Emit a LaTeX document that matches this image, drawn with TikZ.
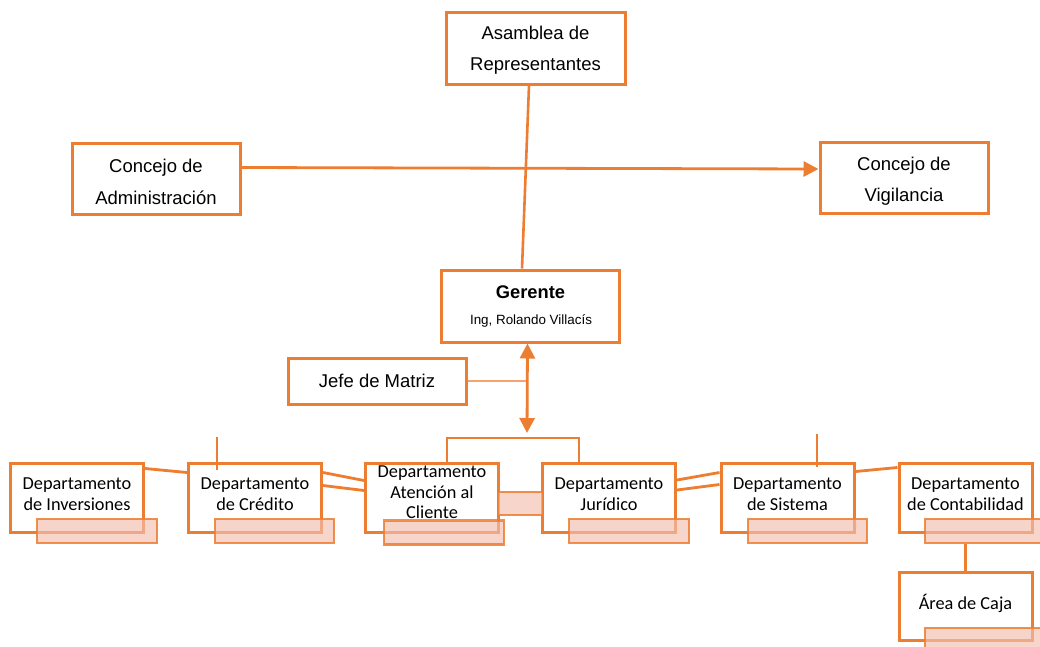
\documentclass[tikz,border=0pt]{standalone}
\usepackage{fontspec}
\setmainfont{Liberation Sans}
\newfontfamily\carl{Carlito}
\usetikzlibrary{arrows.meta,calc}
\definecolor{org}{HTML}{ED7D31}
\definecolor{lorg}{HTML}{F4A46C}
\definecolor{pinkc}{RGB}{243,190,175}
\begin{document}
\begin{tikzpicture}[x=1pt,y=-1pt,
  box/.style={draw=org, line width=3pt, fill=white, inner sep=0pt},
  pinkbox/.style={draw=org, draw opacity=0.85, line width=2.6pt, fill=pinkc, fill opacity=0.65, inner sep=0pt, minimum height=24pt},
  conn/.style={draw=org, line width=2.8pt},
  thin/.style={draw=org, line width=1.3pt},
  ttxt/.style={font=\fontsize{18.5}{31.5}\selectfont, align=center, inner sep=0pt, text=black},
  dtxt/.style={font=\carl\fontsize{18.3}{20.5}\selectfont, align=center, inner sep=0pt, text=black},
  dept/.style={box, minimum width=133pt, minimum height=69pt},
  tip/.style={-{Triangle[width=15pt,length=15pt]}},
]
\useasboundingbox (0,0) rectangle (1040,646);
\clip (0,0) rectangle (1040,646);

% top level boxes
\node[box, minimum width=179pt, minimum height=72pt] (asam) at (535.5,48) {};
\node[ttxt] (asamT) at (535.5,50) {Asamblea de\\Representantes};
\node[box, minimum width=168pt, minimum height=71pt] (adm) at (156,178.5) {};
\node[ttxt] (admT) at (156,182) {Concejo de\\Administración};
\node[box, minimum width=168pt, minimum height=71pt] (vig) at (904,177.5) {};
\node[ttxt] (vigT) at (904,181) {Concejo de\\Vigilancia};
\node[box, minimum width=178pt, minimum height=72pt] (ger) at (530,306) {};
\node[font=\bfseries\fontsize{18.3}{20}\selectfont, inner sep=0pt] (gerT) at (530.5,292) {Gerente};
\node[font=\fontsize{13.4}{15}\selectfont, inner sep=0pt] (gerN) at (531,321) {Ing, Rolando Villacís};
\node[box, minimum width=178pt, minimum height=46pt] (jefe) at (377,381) {};
\node[ttxt] (jefeT) at (377,381) {Jefe de Matriz};

% connectors top
\draw[conn, line width=2.6pt] ([xshift=-6.5pt]asam.south) -- ([xshift=-8pt]ger.north);
\draw[conn, tip] ([yshift=11pt]adm.east) -- ([yshift=8.5pt]vig.west);

% bracket and double arrow
\coordinate (brk) at (527,438);
\draw[thin, draw=lorg] (jefe.east) -- (jefe.east -| brk);

% department boxes
\node[dept] (inv) at (77,497.5) {};
\node[dept] (cred) at (255,497.5) {};
\node[dept] (aten) at (432,497.5) {};
\node[dept] (jur) at (609,498) {};
\node[dept] (sist) at (787.5,497.5) {};
\node[dept] (cont) at (965.5,497.5) {};
\node[dept, minimum height=68pt] (area) at (965.5,606) {};

\draw[conn] (aten.north -| 447,0) |- (brk) -| (jur.north -| 579,0);
\draw[conn, {Triangle[width=15pt,length=15pt]}-{Triangle[width=15pt,length=15pt]}] ([xshift=-2.5pt]ger.south) -- ([yshift=5pt]brk);

\node[dtxt] (invT) at (77,494) {Departamento\\de Inversiones};
\node[dtxt] (credT) at (255,494) {Departamento\\de Crédito};
\node[dtxt] (atenT) at (432,492.5) {Departamento\\Atención al\\Cliente};
\node[dtxt] (jurT) at (609,494) {Departamento\\Jurídico};
\node[dtxt] (sistT) at (787.5,494) {Departamento\\de Sistema};
\node[dtxt] (contT) at (965.5,494) {Departamento\\de Contabilidad};
\node[dtxt] (areaT) at (965.5,603) {Área de Caja};

% department connectors
\draw[conn] ([yshift=-7pt]inv.north east) -- ([yshift=-11pt]cred.north west);
\draw[conn] ([yshift=-11pt]cred.north east) -- ([yshift=-19pt]aten.north west);
\draw[conn] ([yshift=-24pt]cred.north east) -- ([yshift=-29pt]aten.north west);
\draw[conn] ([yshift=-18pt]jur.north east) -- ([yshift=-11pt]sist.north west);
\draw[conn] ([yshift=-28pt]jur.north east) -- ([yshift=-23pt]sist.north west);
\draw[conn] ([yshift=-10pt]sist.north east) -- ([yshift=-6pt]cont.north west);

% thin ticks
\coordinate (tk1) at (217,437);
\coordinate (tk2) at (817,434);
\draw[thin] (tk1) -- (tk1 |- 0,470);
\draw[thin] (tk2) -- (tk2 |- 0,467);

% pink tabs
\node[pinkbox, minimum width=120pt] (invP) at (97,531) {};
\node[pinkbox, minimum width=119pt] (credP) at (274.5,531) {};
\node[pinkbox, minimum width=120pt] (atenP) at (444,532.5) {};
\node[pinkbox, minimum width=45pt, minimum height=23pt] (midP) at (520.5,503.5) {};
\node[pinkbox, minimum width=120pt] (jurP) at (629,531) {};
\node[pinkbox, minimum width=119pt] (sistP) at (807.5,531) {};
\node[pinkbox, minimum width=126pt] (contP) at (988,531) {};
\node[pinkbox, minimum width=126pt] (areaP) at (988,640) {};

\draw[conn] (contP.south -| area.north) -- (area.north);
\end{tikzpicture}
\end{document}
